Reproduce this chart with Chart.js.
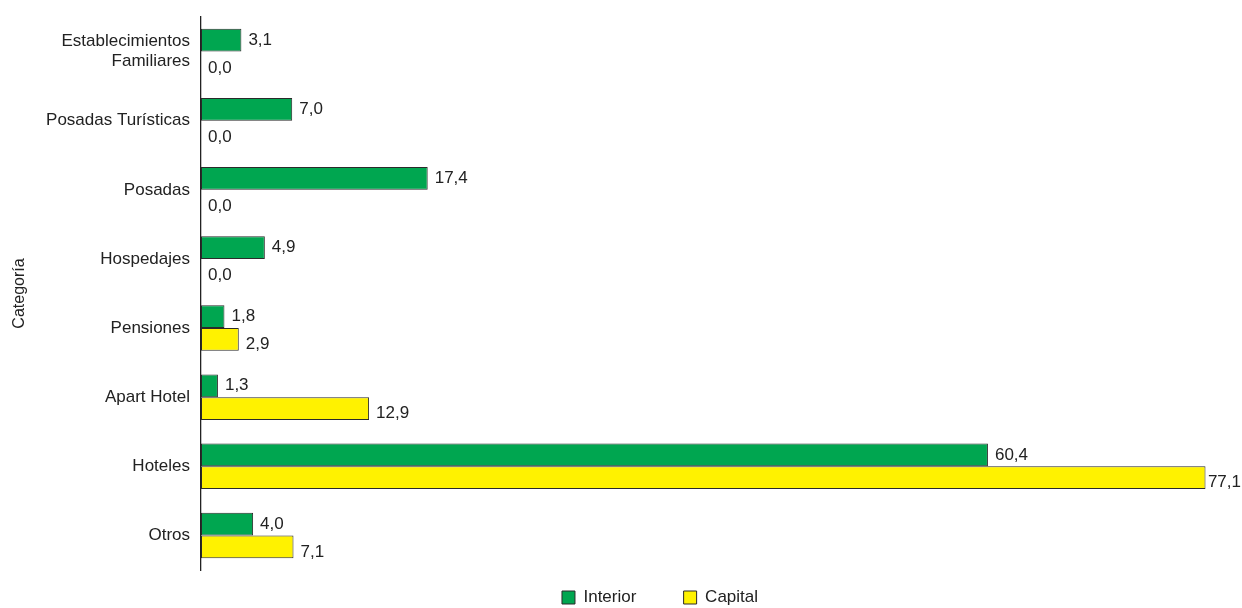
<!DOCTYPE html>
<html>
<head>
<meta charset="utf-8">
<script src="https://cdn.jsdelivr.net/npm/chart.js@4"></script>
<style>
  html, body { margin: 0; padding: 0; background: #fff; }
  #wrap { width: 1242px; height: 608px; }
</style>
</head>
<body>
<div id="wrap"><canvas id="myChart"></canvas></div>
<script>
const categories = [
  ['Establecimientos', 'Familiares'],
  'Posadas Turísticas',
  'Posadas',
  'Hospedajes',
  'Pensiones',
  'Apart Hotel',
  'Hoteles',
  'Otros'
];
const interior = [3.1, 7.0, 17.4, 4.9, 1.8, 1.3, 60.4, 4.0];
const capital = [0.0, 0.0, 0.0, 0.0, 2.9, 12.9, 77.1, 7.1];
const seriesNames = ['Interior', 'Capital'];

const textColor = '#222';
const fontFamily = '"Liberation Sans", Arial, sans-serif';

// value labels next to each bar, comma as decimal separator
const valueLabels = {
  id: 'valueLabels',
  afterDatasetsDraw(chart) {
    const ctx = chart.ctx;
    ctx.save();
    ctx.font = '17px ' + fontFamily;
    ctx.fillStyle = textColor;
    ctx.textAlign = 'left';
    ctx.textBaseline = 'middle';
    chart.data.datasets.forEach((ds, i) => {
      const meta = chart.getDatasetMeta(i);
      meta.data.forEach((bar, j) => {
        const txt = ds.data[j].toFixed(1).replace('.', ',');
        const w = ctx.measureText(txt).width;
        let x = bar.x + 7;
        if (x + w > chart.width - 1) x = Math.max(bar.x + 1, chart.width - 1 - w);
        const dy = i === 0 ? 0 : 5;
        ctx.fillText(txt, x, bar.y + dy);
      });
    });
    ctx.restore();
  }
};

const ctx = document.getElementById('myChart').getContext('2d');
const chart = new Chart(ctx, {
  type: 'bar',
  data: {
    labels: categories,
    datasets: [{
      label: seriesNames[0] + '          ',
      data: interior,
      backgroundColor: '#00a650',
      borderColor: '#2a2a2a',
      borderWidth: 1,
      borderSkipped: false
    }, {
      label: seriesNames[1],
      data: capital,
      backgroundColor: '#fff200',
      borderColor: '#2a2a2a',
      borderWidth: 1,
      borderSkipped: false
    }]
  },
  options: {
    indexAxis: 'y',
    responsive: true,
    maintainAspectRatio: false,
    animation: false,
    categoryPercentage: 0.66,
    barPercentage: 1,
    layout: {
      padding: { top: 17, left: 0, right: -78, bottom: -8 }
    },
    plugins: {
      tooltip: { enabled: false },
      legend: {
        position: 'bottom',
        labels: {
          boxWidth: 13,
          boxHeight: 13,
          padding: 0,
          color: textColor,
          font: { family: fontFamily, size: 17 }
        }
      }
    },
    scales: {
      x: {
        min: 0,
        max: 79.9,
        display: true,
        grid: { display: false },
        border: { display: false },
        ticks: { display: false },
        afterFit: (scale) => { scale.height = 19; }
      },
      y: {
        grid: { display: false, drawTicks: false },
        border: { display: true, color: '#222', width: 1.3 },
        ticks: {
          padding: 11,
          color: textColor,
          font: { family: fontFamily, size: 17 }
        },
        title: {
          display: true,
          text: 'Categoría',
          color: textColor,
          padding: { top: 10, bottom: 0 },
          font: { family: fontFamily, size: 16 }
        },
        afterFit: (scale) => {
          scale.width = 201;
          scale.paddingTop = 0;
          scale.paddingBottom = 0;
        }
      }
    }
  },
  plugins: [valueLabels]
});
</script>
</body>
</html>
